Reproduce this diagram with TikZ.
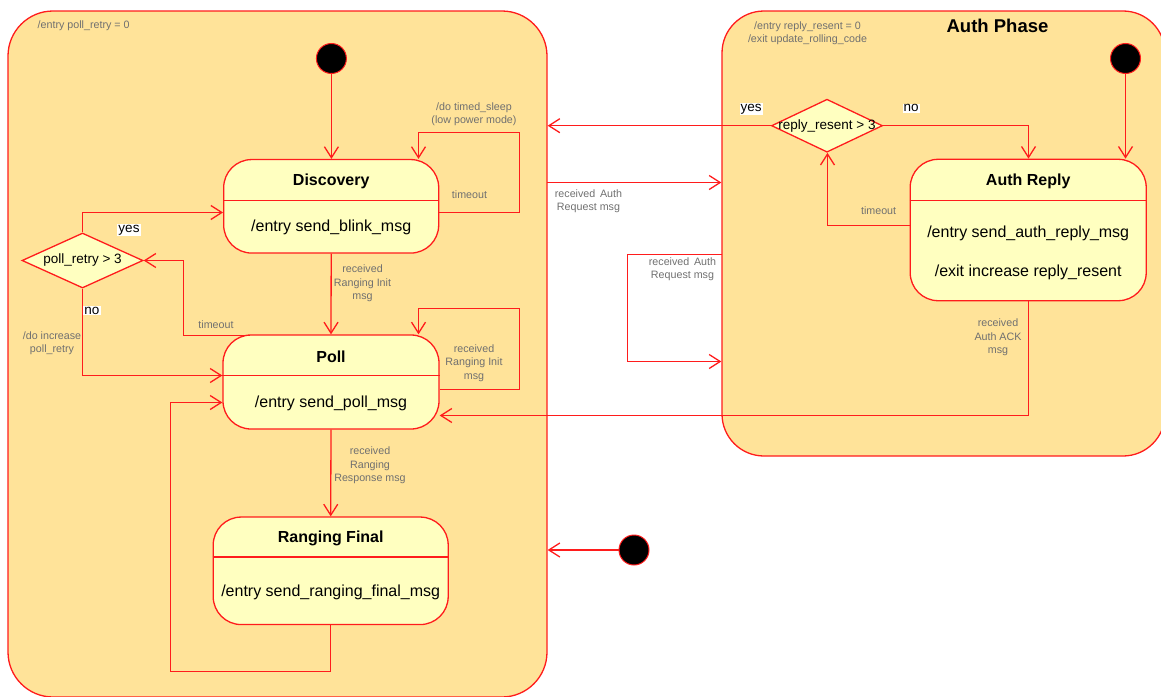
\documentclass[tikz,border=0pt]{standalone}
\usepackage{fontspec}
\setmainfont{Liberation Sans}
\usetikzlibrary{arrows.meta,shapes.geometric}
\definecolor{cred}{RGB}{255,28,28}
\definecolor{cfill}{RGB}{255,227,153}
\definecolor{bfill}{RGB}{255,255,192}
\definecolor{cgray}{RGB}{112,112,112}
\begin{document}
\begin{tikzpicture}[x=1pt,y=-1pt,
  container/.style={draw=cred, fill=cfill, line width=1.3pt, inner sep=0},
  statebox/.style={draw=cred, fill=bfill, rounded corners=28pt, line width=1.3pt, inner sep=0},
  decision/.style={diamond, draw=cred, fill=bfill, line width=1.3pt, inner sep=0},
  dtext/.style={font=\fontsize{13.5}{16}\selectfont, inner sep=0},
  initst/.style={circle, fill=black, draw=cred, line width=1pt, minimum size=30pt, inner sep=0},
  trans/.style={draw=cred, line width=1.3pt, -{Straight Barb[length=11pt,width=14pt]}},
  glabel/.style={text=cgray, font=\fontsize{10.7}{13.4}\selectfont, align=center, inner sep=0},
  guard/.style={fill=white, font=\fontsize{13.5}{15}\selectfont, inner sep=1pt},
  stitle/.style={font=\bfseries\fontsize{16}{19}\selectfont, inner sep=0},
  sbody/.style={font=\fontsize{16}{19}\selectfont, inner sep=0},
  divider/.style={draw=cred, line width=1.3pt}
]
\useasboundingbox (0,0) rectangle (1161,696);

% containers
\node[container, rounded corners=45pt, minimum width=539pt, minimum height=686pt] (left) at (277.5,354) {};
\node[container, rounded corners=42pt, minimum width=443pt, minimum height=445pt] (auth) at (943.5,233.5) {};
\node[glabel, anchor=west] (lentry) at (37.5,26) {/entry poll\_retry = 0};
\node[font=\bfseries\fontsize{18.5}{22}\selectfont, inner sep=0] (authT) at (997.5,25.5) {Auth Phase};
\node[glabel] (aentry) at (807.5,33) {/entry reply\_resent = 0\\/exit update\_rolling\_code};

% initial states
\node[initst] (init1) at (331.4,58.5) {};
\node[initst] (init2) at (1125.5,58.5) {};
\node[initst] (init3) at (634,550) {};

% state boxes
\node[statebox, minimum width=215pt, minimum height=93.5pt] (disc) at (331.2,206.3) {};
\draw[divider] (disc.west |- 0,200.5) -- (disc.east |- 0,200.5);
\node[stitle] (discT) at (331.2,181.5) {Discovery};
\node[sbody] (discB) at (331.2,227) {/entry send\_blink\_msg};

\node[statebox, minimum width=216pt, minimum height=94pt] (poll) at (331,382) {};
\draw[divider] (poll.west |- 0,375.5) -- (poll.east |- 0,375.5);
\node[stitle] (pollT) at (331,356.5) {Poll};
\node[sbody] (pollB) at (331,403) {/entry send\_poll\_msg};

\node[statebox, minimum width=235pt, minimum height=107.5pt] (rf) at (330.7,570.8) {};
\draw[divider] (rf.west |- 0,557) -- (rf.east |- 0,557);
\node[stitle] (rfT) at (330.7,538.5) {Ranging Final};
\node[sbody] (rfB) at (330.7,592) {/entry send\_ranging\_final\_msg};

\node[statebox, minimum width=236pt, minimum height=141.4pt] (ar) at (1028.2,230) {};
\draw[divider] (ar.west |- 0,200.5) -- (ar.east |- 0,200.5);
\node[stitle] (arT) at (1028.2,181.5) {Auth Reply};
\node[sbody] (arB1) at (1028.2,233) {/entry send\_auth\_reply\_msg};
\node[sbody] (arB2) at (1028.2,272) {/exit increase reply\_resent};

% decisions
\node[decision, minimum width=121pt, minimum height=55pt] (pr) at (82.5,260.5) {};
\node[dtext] (prT) at (pr) {poll\_retry > 3};
\node[decision, minimum width=111pt, minimum height=53pt] (rr) at (827,125.7) {};
\node[dtext] (rrT) at (rr) {reply\_resent > 3};

% transitions (left)
\draw[trans] (init1.south) -- (init1.south |- disc.north);
\coordinate (dl1) at (519.5,212.5);
\coordinate (dl2) at (519.5,132.5);
\coordinate (dl3) at (418.5,132.5);
\draw[trans] (disc.east |- dl1) -- (dl1) -- (dl2) -- (dl3) -- (dl3 |- disc.north);
\node[glabel] (dlL) at (474,114) {/do timed\_sleep\\(low power mode)};
\node[glabel] (dlT) at (469.5,195) {timeout};

\draw[trans] (disc.south) -- (poll.north);
\node[glabel] (dpL) at (362.5,283.3) {received\\Ranging Init\\msg};

\coordinate (py) at (82.5,212.5);
\draw[trans] (pr.north) -- (py) -- (disc.west |- py);
\node[guard] (yesL) at (129,230) {yes};
\coordinate (pn) at (82.5,375.5);
\draw[trans] (pr.south) -- (pn) -- (poll.west |- pn);
\node[guard] (noL) at (92,310.5) {no};
\node[glabel] (incL) at (52,343.4) {/do increase\\poll\_retry};

\coordinate (pt1) at (250,335.5);
\coordinate (pt2) at (183.5,335.5);
\draw[trans] (pt1) -- (pt2) -- (pt2 |- pr.east) -- (pr.east);
\node[glabel] (ptL) at (216,324.3) {timeout};

\coordinate (pl1) at (519.5,389.5);
\coordinate (pl2) at (519.5,308.5);
\coordinate (pl3) at (418.5,308.5);
\draw[trans] (poll.east |- pl1) -- (pl1) -- (pl2) -- (pl3) -- (pl3 |- poll.north);
\node[glabel] (plL) at (474,363) {received\\Ranging Init\\msg};

\draw[trans] (poll.south) -- (rf.north);
\node[glabel] (prL) at (370,465.3) {received\\Ranging\\Response msg};

\coordinate (rl1) at (330.7,671.5);
\coordinate (rl2) at (170.5,671.5);
\coordinate (rl3) at (170.5,402.5);
\draw[trans] (rf.south) -- (rl1) -- (rl2) -- (rl3) -- (poll.west |- rl3);

\draw[trans] (init3.west) -- (left.east |- init3.west);

% between containers
\coordinate (ab) at (547,182.5);
\draw[trans] (ab) -- (auth.west |- ab);
\node[glabel] (abL) at (588.5,201.3) {received\,\ Auth\\Request msg};

\coordinate (al0) at (722,254.5);
\coordinate (al1) at (627.5,254.5);
\coordinate (al2) at (627.5,361.5);
\draw[trans] (al0) -- (al1) -- (al2) -- (auth.west |- al2);
\node[glabel] (alL) at (682.5,269) {received\,\ Auth\\Request msg};

% auth phase transitions
\draw[trans] (init2.south) -- (init2.south |- ar.north);
\coordinate (rn) at (1028.5,125.7);
\draw[trans] (rr.east) -- (rn) -- (rn |- ar.north);
\node[guard] (noA) at (911,108.3) {no};
\draw[trans] (rr.west) -- (left.east |- rr.west);
\node[guard] (yesA) at (751,109.3) {yes};
\coordinate (rt) at (827.5,225.5);
\draw[trans] (ar.west |- rt) -- (rt) -- (rt |- rr.south);
\node[glabel] (rtL) at (878.6,211) {timeout};

\coordinate (ack) at (1028.5,415.5);
\draw[trans] (ar.south -| ack) -- (ack) -- (poll.east |- ack);
\node[glabel] (ackL) at (998,337.3) {received\\Auth ACK\\msg};
\end{tikzpicture}
\end{document}
